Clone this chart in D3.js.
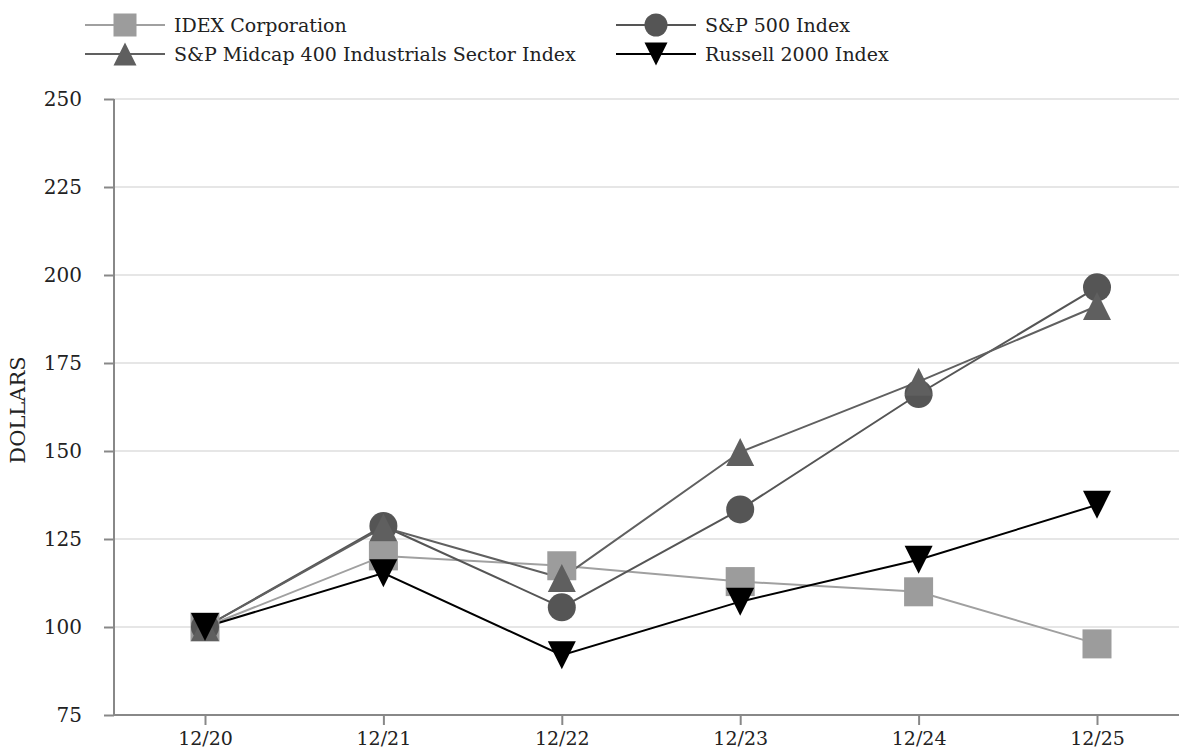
<!DOCTYPE html>
<html>
<head>
<meta charset="utf-8">
<script src="https://cdn.jsdelivr.net/npm/d3@7"></script>
<style>
  body { margin: 0; background: #fff; }
  svg { display: block; }
</style>
</head>
<body>
<svg id="chart" width="1179" height="755"></svg>
<script>
// ---- data ----
const periods = ["12/20", "12/21", "12/22", "12/23", "12/24", "12/25"];
const idex     = [100, 120.2, 117.4, 112.9, 110.0, 95.2];
const sp500    = [100, 128.7, 105.6, 133.4, 166.2, 196.5];
const midcap   = [100, 128.3, 113.9, 149.7, 169.7, 191.2];
const russell  = [100, 115.3, 92.0, 107.2, 119.1, 134.7];
const yTicks   = [75, 100, 125, 150, 175, 200, 225, 250];

const series = [
  { name: "IDEX Corporation", values: idex, line: "#a0a0a0", fill: "#9c9c9c", shape: "square" },
  { name: "S&P 500 Index", values: sp500, line: "#555555", fill: "#555555", shape: "circle" },
  { name: "S&P Midcap 400 Industrials Sector Index", values: midcap, line: "#606060", fill: "#5f5f5f", shape: "up" },
  { name: "Russell 2000 Index", values: russell, line: "#000000", fill: "#000000", shape: "down" }
];

const FONT = "'DejaVu Serif', serif";
const svg = d3.select("#chart");
const plotL = 114, plotR = 1179, plotT = 99, plotB = 715;

const x = d3.scalePoint().domain(periods).range([205, 1097]);
const y = d3.scaleLinear().domain([75, 250]).range([plotB, plotT]);

// gridlines
svg.append("g").selectAll("line")
  .data(yTicks.slice(1))
  .enter().append("line")
  .attr("x1", plotL).attr("x2", plotR)
  .attr("y1", d => y(d)).attr("y2", d => y(d))
  .attr("stroke", "#e6e6e6").attr("stroke-width", 2);

// y axis
const yAxis = svg.append("g")
  .attr("transform", "translate(" + plotL + ",0)")
  .call(d3.axisLeft(y).tickValues(yTicks).tickSize(10).tickPadding(22));
yAxis.attr("font-family", FONT);
yAxis.select(".domain").attr("stroke", "#888").attr("stroke-width", 2)
  .attr("d", "M0," + plotT + "V" + plotB);
yAxis.selectAll(".tick line").attr("stroke", "#888").attr("stroke-width", 2);
yAxis.selectAll(".tick text").attr("font-size", 20).attr("fill", "#222");

// x axis
const xAxis = svg.append("g")
  .attr("transform", "translate(0," + plotB + ")")
  .call(d3.axisBottom(x).tickSize(10).tickPadding(7));
xAxis.attr("font-family", FONT);
xAxis.select(".domain").attr("stroke", "#888").attr("stroke-width", 2)
  .attr("d", "M" + plotL + ",0H" + plotR);
xAxis.selectAll(".tick line").attr("stroke", "#888").attr("stroke-width", 2);
xAxis.selectAll(".tick text").attr("font-size", 19).attr("fill", "#222");

// y title
svg.append("text")
  .attr("transform", "translate(25,410) rotate(-90)")
  .attr("text-anchor", "middle")
  .attr("font-family", FONT)
  .attr("font-size", 21).attr("fill", "#222")
  .text("DOLLARS");

// marker drawing
function drawMarker(g, shape, fill, cx, cy, s) {
  if (shape === "square") {
    g.append("rect").attr("x", cx - s / 2).attr("y", cy - s / 2)
      .attr("width", s).attr("height", s).attr("fill", fill);
  } else if (shape === "circle") {
    g.append("circle").attr("cx", cx).attr("cy", cy).attr("r", s / 2).attr("fill", fill);
  } else if (shape === "up") {
    g.append("path").attr("fill", fill)
      .attr("d", "M" + cx + "," + (cy - s / 2) + "L" + (cx + s / 2) + "," + (cy + s / 2) +
        "L" + (cx - s / 2) + "," + (cy + s / 2) + "Z");
  } else {
    g.append("path").attr("fill", fill)
      .attr("d", "M" + (cx - s / 2) + "," + (cy - s / 2) + "L" + (cx + s / 2) + "," + (cy - s / 2) +
        "L" + cx + "," + (cy + s / 2) + "Z");
  }
}

const line = d3.line().x((d, i) => x(periods[i])).y(d => y(d));

// lines first, then markers in series order
series.forEach(s => {
  svg.append("path")
    .attr("d", line(s.values))
    .attr("fill", "none")
    .attr("stroke", s.line)
    .attr("stroke-width", 2);
});
const sizes = { square: 29, circle: 28, up: 28, down: 28 };
series.forEach(s => {
  const g = svg.append("g");
  s.values.forEach((v, i) => drawMarker(g, s.shape, s.fill, x(periods[i]), y(v), sizes[s.shape]));
});

// legend
const legendPos = [
  { x: 85, y: 25 }, { x: 616, y: 25 }, { x: 85, y: 54 }, { x: 616, y: 54 }
];
series.forEach((s, i) => {
  const p = legendPos[i];
  const g = svg.append("g");
  g.append("line").attr("x1", p.x).attr("x2", p.x + 80)
    .attr("y1", p.y).attr("y2", p.y)
    .attr("stroke", s.line).attr("stroke-width", 2);
  drawMarker(g, s.shape, s.fill, p.x + 40, p.y, 23);
  g.append("text").attr("x", p.x + 89).attr("y", p.y + 7)
    .attr("font-family", FONT)
    .attr("font-size", 19).attr("fill", "#222")
    .text(s.name);
});
</script>
</body>
</html>
